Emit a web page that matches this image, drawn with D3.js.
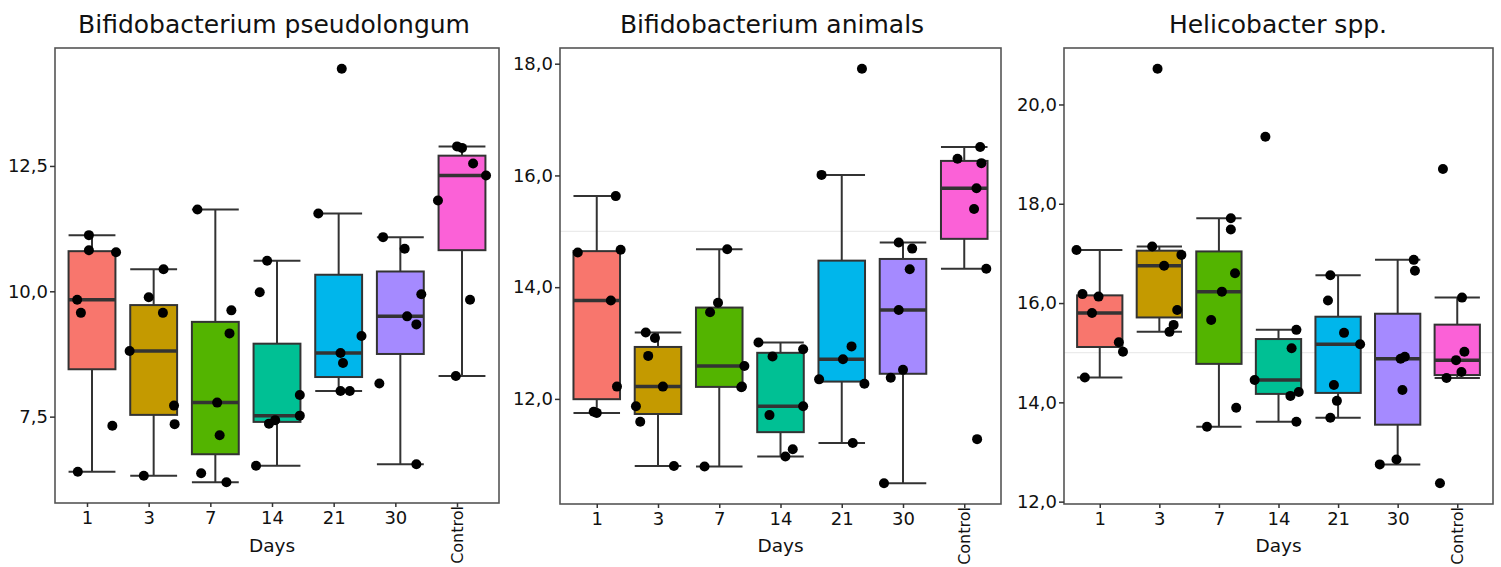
<!DOCTYPE html>
<html>

<head>
    <meta charset="utf-8" />
    <title>Box plots by day</title>
    <script src="https://d3js.org/d3.v7.min.js"></script>
    <style>
        body {
            margin: 0;
            background: #fff;
        }

        svg {
            display: block;
            font-family: "DejaVu Sans", Verdana, sans-serif;
        }

        svg text {
            font-family: "DejaVu Sans", Verdana, sans-serif;
        }
    </style>
</head>

<body>
    <svg width="1501" height="567"></svg>
    <script>
        // categories and fills
        var days = ["1", "3", "7", "14", "21", "30", "Control"];
        var fills = ["#F8766D", "#C49A00", "#53B400", "#00C094", "#00B6EB", "#A58AFF", "#FB61D7"];

        // Bifidobacterium pseudolongum
        var pseudolongumValues = [
            [11.12, 10.82, 10.78, 9.83, 9.57, 7.32, 6.40],
            [10.44, 9.88, 9.57, 8.81, 7.72, 7.35, 6.32],
            [11.63, 9.62, 9.16, 7.78, 7.13, 6.37, 6.19],
            [10.61, 9.98, 7.93, 7.52, 7.43, 7.36, 6.52],
            [14.44, 11.55, 9.11, 8.77, 8.57, 8.01, 8.01],
            [11.08, 10.85, 9.94, 9.50, 9.34, 8.16, 6.55],
            [12.89, 12.86, 12.55, 12.31, 11.81, 9.83, 8.31]
        ];
        // jitter offsets, in fractions of one category step
        var pseudolongumJitter = [
            [-0.05, -0.05, 0.39, -0.24, -0.18, 0.33, -0.23],
            [0.16, -0.08, 0.15, -0.39, 0.33, 0.34, -0.16],
            [-0.29, 0.26, 0.23, 0.03, 0.07, -0.23, 0.18],
            [-0.16, -0.28, 0.37, 0.37, -0.03, -0.13, -0.34],
            [0.05, -0.33, 0.37, 0.03, 0.07, 0.03, 0.18],
            [-0.28, 0.07, 0.34, 0.11, 0.26, -0.34, 0.26],
            [-0.08, 0.0, 0.18, 0.39, -0.39, 0.13, -0.1]
        ];
        var pseudolongumTicks = [7.5, 10, 12.5];

        // Bifidobacterium animals
        var animalsValues = [
            [15.63, 14.67, 14.62, 13.76, 12.22, 11.77, 11.75],
            [13.19, 13.09, 12.77, 12.22, 11.87, 11.59, 10.80],
            [14.68, 13.72, 13.55, 12.59, 12.22, 12.21, 10.79],
            [13.01, 12.89, 12.76, 11.87, 11.71, 11.10, 10.97],
            [17.91, 16.01, 12.94, 12.71, 12.35, 12.27, 11.21],
            [14.80, 14.69, 14.32, 13.59, 12.52, 12.38, 10.49],
            [16.51, 16.30, 16.22, 15.77, 15.40, 14.33, 11.28]
        ];
        var animalsJitter = [
            [0.31, 0.39, -0.31, 0.23, 0.33, -0.05, 0.0],
            [-0.2, -0.05, -0.16, 0.08, -0.36, -0.29, 0.26],
            [0.13, -0.02, -0.15, 0.41, 0.37, 0.36, -0.24],
            [-0.36, 0.37, -0.13, 0.37, -0.18, 0.2, 0.08],
            [0.33, -0.33, 0.16, 0.02, -0.37, 0.37, 0.18],
            [-0.07, 0.15, 0.11, -0.07, 0.0, -0.2, -0.31],
            [0.26, -0.11, 0.28, 0.2, 0.16, 0.36, 0.21]
        ];
        var animalsTicks = [12, 14, 16, 18];

        // Helicobacter spp.
        var helicobacterValues = [
            [17.07, 16.18, 16.13, 15.80, 15.21, 15.02, 14.50],
            [20.72, 17.14, 16.97, 16.75, 15.86, 15.56, 15.42],
            [17.71, 17.48, 16.60, 16.23, 15.66, 13.89, 13.51],
            [19.35, 15.46, 15.09, 14.45, 14.21, 14.13, 13.61],
            [16.56, 16.05, 15.40, 15.17, 14.35, 14.03, 13.69],
            [16.87, 16.65, 14.92, 14.88, 14.25, 12.85, 12.75],
            [18.70, 16.11, 15.02, 14.85, 14.61, 14.49, 12.37]
        ];
        var helicobacterJitter = [
            [-0.39, -0.29, -0.02, -0.13, 0.32, 0.39, -0.25],
            [-0.03, -0.12, 0.37, 0.08, 0.3, 0.24, 0.17],
            [0.2, 0.2, 0.27, 0.05, -0.13, 0.29, -0.2],
            [-0.22, 0.3, 0.22, -0.4, 0.34, 0.2, 0.3],
            [-0.13, -0.17, 0.1, 0.37, -0.07, -0.02, -0.13],
            [0.27, 0.29, 0.12, 0.05, 0.08, -0.02, -0.3],
            [-0.24, 0.08, 0.12, -0.02, 0.07, -0.18, -0.29]
        ];
        var helicobacterTicks = [12, 14, 16, 18, 20];

        var titles = ["Bifidobacterium pseudolongum", "Bifidobacterium animals", "Helicobacter spp."];
        var refLines = [null, 15, 15];

        // layout of the three panels
        var panels = [
            { values: pseudolongumValues, jitter: pseudolongumJitter, ticks: pseudolongumTicks, left: 55, right: 499, top: 48, bottom: 503, axisShift: -5, titleX: 274 },
            { values: animalsValues, jitter: animalsJitter, ticks: animalsTicks, left: 560, right: 1001, top: 48, bottom: 504, axisShift: 0, titleX: 772 },
            { values: helicobacterValues, jitter: helicobacterJitter, ticks: helicobacterTicks, left: 1064, right: 1493, top: 48, bottom: 504, axisShift: 0, titleX: 1278 }
        ];

        var svg = d3.select("svg");
        svg.append("rect").attr("width", 1501).attr("height", 567).attr("fill", "#fff");

        var fmt = function (d) { return d3.format(".1f")(d).replace(".", ","); };
        var ink = "#333";
        var font = "DejaVu Sans";

        function stats(vals) {
            var s = vals.slice().sort(d3.ascending);
            var q1 = d3.quantile(s, 0.25), med = d3.quantile(s, 0.5), q3 = d3.quantile(s, 0.75);
            var iqr = q3 - q1;
            var lo = d3.min(s.filter(function (v) { return v >= q1 - 1.5 * iqr; }));
            var hi = d3.max(s.filter(function (v) { return v <= q3 + 1.5 * iqr; }));
            return { q1: q1, med: med, q3: q3, lo: lo, hi: hi };
        }

        panels.forEach(function (p, pi) {
            var all = d3.merge(p.values);
            var ext = d3.extent(all), pad = (ext[1] - ext[0]) * 0.05;

            var x = d3.scalePoint().domain(days).range([p.left, p.right]).padding(0.6);
            var y = d3.scaleLinear().domain([ext[0] - pad, ext[1] + pad]).range([p.bottom, p.top]);
            var step = x.step();
            var bw = step * 0.76;

            var g = svg.append("g");

            // title
            svg.append("text")
                .attr("x", p.titleX)
                .attr("y", 33)
                .attr("text-anchor", "middle")
                .attr("font-size", 25)
                .attr("fill", "#111")
                .text(titles[pi]);

            if (refLines[pi] != null) {
                g.append("line")
                    .attr("x1", p.left).attr("x2", p.right)
                    .attr("y1", y(refLines[pi])).attr("y2", y(refLines[pi]))
                    .attr("stroke", "#ebebeb").attr("stroke-width", 1.2);
            }

            var groups = g.selectAll(".grp")
                .data(days.map(function (d, i) { return { day: d, i: i, vals: p.values[i], st: stats(p.values[i]) }; }))
                .enter().append("g").attr("class", "grp");

            // whisker stems
            groups.append("line")
                .attr("x1", function (d) { return x(d.day); })
                .attr("x2", function (d) { return x(d.day); })
                .attr("y1", function (d) { return y(d.st.hi); })
                .attr("y2", function (d) { return y(d.st.lo); })
                .attr("stroke", ink).attr("stroke-width", 2);

            // caps
            ["hi", "lo"].forEach(function (k) {
                groups.append("line")
                    .attr("x1", function (d) { return x(d.day) - bw / 2; })
                    .attr("x2", function (d) { return x(d.day) + bw / 2; })
                    .attr("y1", function (d) { return y(d.st[k]); })
                    .attr("y2", function (d) { return y(d.st[k]); })
                    .attr("stroke", ink).attr("stroke-width", 2);
            });

            // boxes
            groups.append("rect")
                .attr("x", function (d) { return x(d.day) - bw / 2; })
                .attr("width", bw)
                .attr("y", function (d) { return y(d.st.q3); })
                .attr("height", function (d) { return y(d.st.q1) - y(d.st.q3); })
                .attr("fill", function (d) { return fills[d.i]; })
                .attr("stroke", ink).attr("stroke-width", 2);

            // medians
            groups.append("line")
                .attr("x1", function (d) { return x(d.day) - bw / 2; })
                .attr("x2", function (d) { return x(d.day) + bw / 2; })
                .attr("y1", function (d) { return y(d.st.med); })
                .attr("y2", function (d) { return y(d.st.med); })
                .attr("stroke", ink).attr("stroke-width", 3.5);

            // jittered points
            groups.selectAll("circle")
                .data(function (d) { return d.vals.map(function (v, j) { return { day: d.day, v: v, jx: p.jitter[d.i][j] }; }); })
                .enter().append("circle")
                .attr("cx", function (d) { return x(d.day) + d.jx * step; })
                .attr("cy", function (d) { return y(d.v); })
                .attr("r", 5)
                .attr("fill", "#000");

            // panel border
            g.append("rect")
                .attr("x", p.left).attr("y", p.top)
                .attr("width", p.right - p.left).attr("height", p.bottom - p.top)
                .attr("fill", "none").attr("stroke", "#555").attr("stroke-width", 1.6);

            // y axis
            var yAxis = d3.axisLeft(y).tickValues(p.ticks).tickFormat(fmt).tickSize(5).tickPadding(2);
            var ya = svg.append("g").attr("transform", "translate(" + p.left + ",0)").call(yAxis)
                .attr("font-family", font).attr("font-size", 18);
            ya.select(".domain").remove();
            ya.selectAll("line").attr("stroke", ink).attr("stroke-width", 1.5);
            ya.selectAll("text").attr("fill", "#111");

            // x axis (shifted copy of the band positions)
            var xs = x.copy().range([p.left + p.axisShift, p.right + p.axisShift]);
            var xAxis = d3.axisBottom(xs).tickSize(4).tickPadding(4);
            var xa = svg.append("g").attr("transform", "translate(0," + p.bottom + ")").call(xAxis)
                .attr("font-family", font).attr("font-size", 18);
            xa.select(".domain").remove();
            xa.selectAll("line").attr("stroke", ink).attr("stroke-width", 1.5);
            xa.selectAll("text").attr("fill", "#111");
            xa.selectAll(".tick").filter(function (d) { return d === "Control"; }).select("text")
                .attr("transform", "rotate(-90)")
                .attr("text-anchor", "end")
                .attr("font-size", 16)
                .attr("x", -3)
                .attr("y", 0)
                .attr("dy", "0.35em");

            // x title
            svg.append("text")
                .attr("x", (p.left + p.right) / 2 + p.axisShift)
                .attr("y", 552)
                .attr("text-anchor", "middle")
                .attr("font-size", 18.5)
                .attr("fill", "#111")
                .text("Days");
        });
    </script>
</body>

</html>
